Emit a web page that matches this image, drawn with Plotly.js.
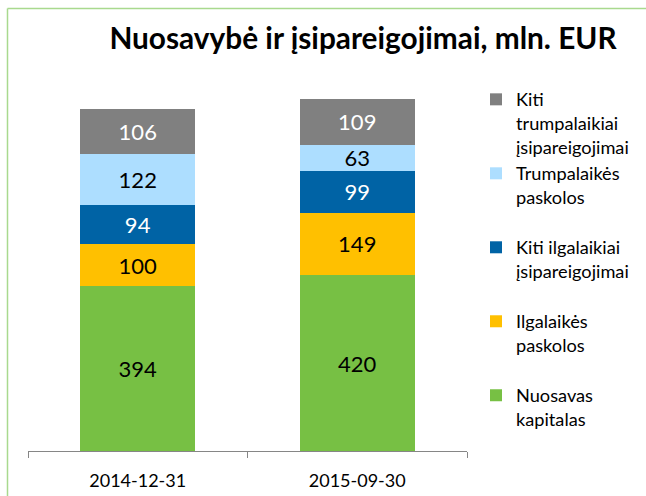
<!DOCTYPE html>
<html>
<head>
<meta charset="utf-8">
<script src="https://cdn.plot.ly/plotly-3.0.1.min.js"></script>
<style>
html,body{margin:0;padding:0;background:#fff;}
#chart{width:646px;height:496px;}
</style>
</head>
<body>
<div id="chart"></div>
<script>
var categories = ["2014-12-31", "2015-09-30"];
var seriesNames = [
  "Nuosavas<br>kapitalas<br> ",
  "Ilgalaikės<br>paskolos<br> ",
  "Kiti ilgalaikiai<br>įsipareigojimai<br> ",
  "Trumpalaikės<br>paskolos<br> ",
  "Kiti<br>trumpalaikiai<br>įsipareigojimai"
];
var nuosavasKapitalas = [394, 420];
var ilgalaikesPaskolos = [100, 149];
var kitiIlgalaikiai = [94, 99];
var trumpalaikesPaskolos = [122, 63];
var kitiTrumpalaikiai = [106, 109];

var seriesValues = [nuosavasKapitalas, ilgalaikesPaskolos, kitiIlgalaikiai, trumpalaikesPaskolos, kitiTrumpalaikiai];
var colors = ["#77C044", "#FFC000", "#0063A5", "#ADDEFF", "#808080"];
var labelColors = ["#000000", "#000000", "#FFFFFF", "#000000", "#FFFFFF"];

var traces = seriesValues.map(function (vals, i) {
  return {
    type: "bar",
    x: categories,
    y: vals,
    name: seriesNames[i],
    marker: {color: colors[i], line: {width: 0}},
    width: 0.524,
    texttemplate: "%{y}",
    textposition: "inside",
    insidetextanchor: "middle",
    constraintext: "none",
    textangle: 0,
    textfont: {family: "Lato, sans-serif", size: 22, color: labelColors[i]},
    hoverinfo: "x+y+name"
  };
});

var W = 646, H = 496, L = 28, R = 179, T = 74, B = 45;
var pw = W - L - R, ph = H - T - B;
function px(x) { return (x - L) / pw; }
function py(y) { return (H - B - y) / ph; }

var layout = {
  width: W, height: H,
  margin: {l: L, r: R, t: T, b: B, pad: 0},
  paper_bgcolor: "#ffffff",
  plot_bgcolor: "#ffffff",
  barmode: "stack",
  font: {family: "Lato, sans-serif", color: "#000000"},
  title: {
    text: "<b>Nuosavybė ir įsipareigojimai, mln. EUR</b>",
    font: {family: "Lato, sans-serif", size: 29.8, color: "#000000"},
    xref: "container", x: 363 / W, xanchor: "center",
    yref: "container", y: 1 - 39 / H, yanchor: "middle"
  },
  xaxis: {
    type: "category",
    range: [-0.5, 1.5],
    showline: true, linecolor: "#868686", linewidth: 1,
    ticks: "outside", ticklen: 6, tickcolor: "#868686", tickwidth: 1,
    tickson: "boundaries",
    ticklabelstandoff: 13,
    showgrid: false, zeroline: false,
    tickfont: {family: "Lato, sans-serif", size: 18, color: "#000000"}
  },
  yaxis: {
    range: [0, 900],
    visible: false, showgrid: false, zeroline: false
  },
  showlegend: true,
  legend: {
    traceorder: "reversed",
    orientation: "v",
    x: px(476), xanchor: "left",
    y: py(81), yanchor: "top",
    valign: "top",
    tracegroupgap: 0,
    bgcolor: "rgba(0,0,0,0)",
    font: {family: "Lato, sans-serif", size: 18.2, color: "#000000"}
  },
  shapes: [
    {type: "line", xref: "paper", yref: "paper",
     x0: px(7.5), x1: px(7.5), y0: py(H + 2), y1: py(8.5),
     line: {color: "#A9D98E", width: 1.5}},
    {type: "line", xref: "paper", yref: "paper",
     x0: px(7.5), x1: px(W + 2), y0: py(8.5), y1: py(8.5),
     line: {color: "#A9D98E", width: 1.5}}
  ]
};

Plotly.newPlot("chart", traces, layout, {displayModeBar: false, staticPlot: true});
</script>
</body>
</html>
